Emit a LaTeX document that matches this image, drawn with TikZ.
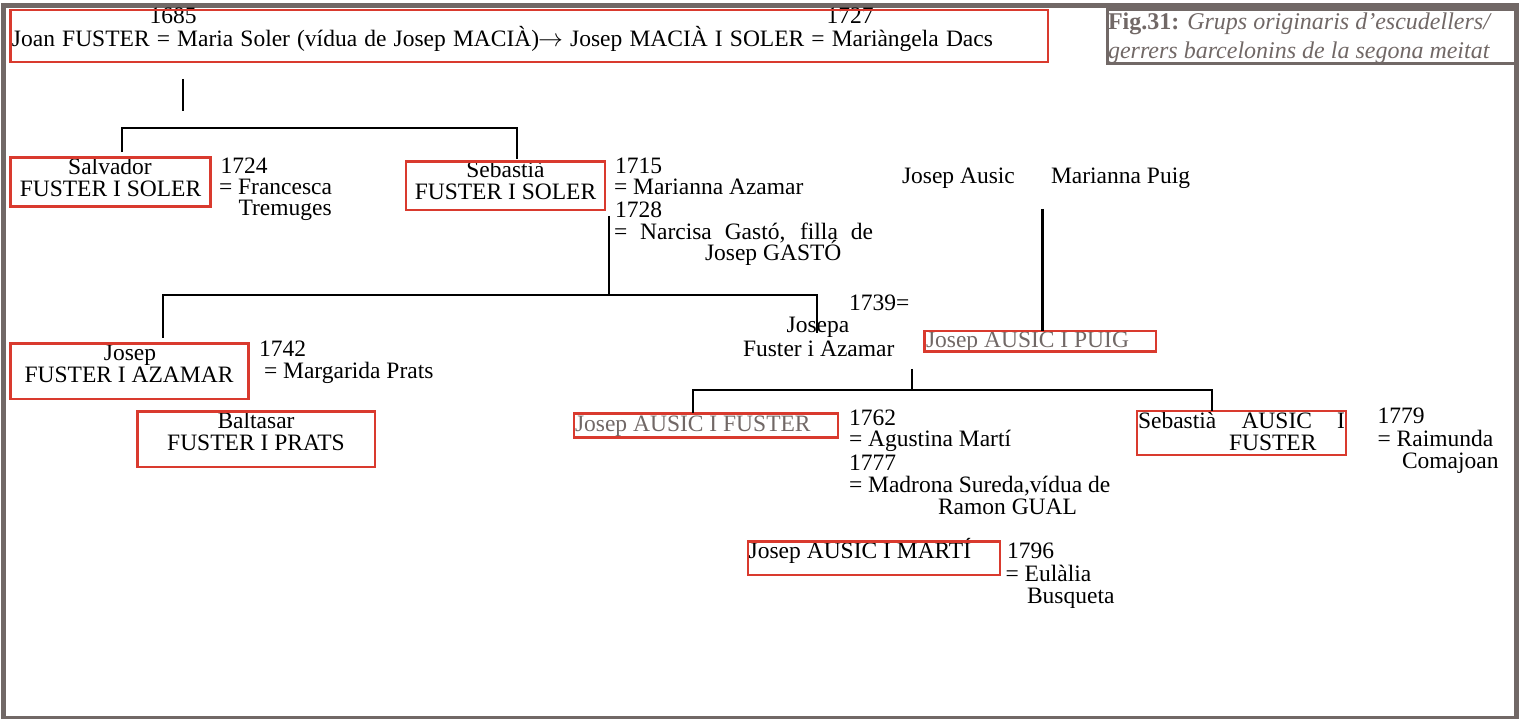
\documentclass[tikz,border=0pt]{standalone}
\usepackage{fontspec}
\setmainfont{Liberation Serif}
\definecolor{boxred}{HTML}{D93A2E}
\definecolor{framegray}{HTML}{716866}
\tikzset{
  t/.style={inner sep=0pt, outer sep=0pt, anchor=base west, font=\fontsize{23.5}{22.4}\selectfont},
  tc/.style={t, anchor=base},
  gt/.style={t, text=framegray},
  captxt/.style={t, text=framegray, font=\fontsize{24}{24}\selectfont},
  rbox/.style={draw=boxred, line width=2.6pt, inner sep=0pt, outer sep=0pt},
  gbox/.style={draw=framegray, line width=3pt, inner sep=0pt, outer sep=0pt},
  link/.style={line width=2.8pt, black},
}
\begin{document}
\begin{tikzpicture}[x=1pt,y=-1pt]
\useasboundingbox (0,0) rectangle (1524,719);
% outer frame
\node[draw=framegray, line width=5pt, inner sep=0pt, minimum width=1513pt, minimum height=713pt] (frame) at (760,362) {};
% ---- texts ----
\node[tc] (y1685) at (173,24) {1685};
\node[tc] (y1727) at (850,24) {1727};
\node[t] (main) at (12,46.7) {\makebox[981pt][s]{Joan FUSTER = Maria Soler (vídua de Josep MACIÀ)\kern-1pt$\rightarrow$ Josep MACIÀ I SOLER = Mariàngela Dacs}};
\node[captxt] (cap1) at (1108,30) {\textbf{Fig.31:} \textit{Grups originaris d’escudellers/}};
\node[captxt] (cap2) at (1108,59) {\textit{gerrers barcelonins de la segona meitat}};
% Salvador
\node[tc] (salv1) at (110,174.3) {Salvador};
\node[tc] (salv2) at (110.5,196.7) {FUSTER I SOLER};
\node[t] (salvd) at (220.5,173.3) {1724};
\node[t] (salve) at (219,194.5) {= Francesca};
\node[t] (salvf) at (238.5,216) {Tremuges};
% Sebastia
\node[tc] (seb1) at (505.5,177.3) {Sebastià};
\node[tc] (seb2) at (505.5,199.3) {FUSTER I SOLER};
\node[t] (sebd1) at (615,173.5) {1715};
\node[t] (sebe1) at (614,195) {= Marianna Azamar};
\node[t] (sebd2) at (615,218) {1728};
\node[t] (sebe2) at (614,240) {\makebox[259pt][s]{= Narcisa Gastó, filla de}};
\node[t] (sebe3) at (705,260.7) {Josep GASTÓ};
% Ausic parents
\node[t] (ausic) at (902,183.3) {Josep Ausic};
\node[t] (puigm) at (1051,183.3) {Marianna Puig};
% Josepa
\node[t] (y1739) at (849,310.7) {1739=};
\node[tc] (josepa1) at (818,333) {Josepa};
\node[tc] (josepa2) at (818.7,356) {Fuster i Azamar};
\node[gt] (puigt) at (926,348) {Josep AUSIC I PUIG};
% Josep Fuster i Azamar
\node[tc] (jfa1) at (130,361) {Josep};
\node[tc] (jfa2) at (129,382.3) {FUSTER I AZAMAR};
\node[t] (jfad) at (259,356.7) {1742};
\node[t] (jfae) at (264,378.3) {= Margarida Prats};
% Baltasar
\node[tc] (balt1) at (256,428.7) {Baltasar};
\node[tc] (balt2) at (256,450) {FUSTER I PRATS};
% Josep Ausic i Fuster
\node[gt] (jaft) at (575,431.7) {Josep AUSIC I FUSTER};
\node[t] (jafd1) at (849,425.7) {1762};
\node[t] (jafe1) at (849,446.7) {= Agustina Martí};
\node[t] (jafd2) at (849,470) {1777};
\node[t] (jafe2) at (849,492.7) {= Madrona Sureda,vídua de};
\node[t] (jafe3) at (938,514) {Ramon GUAL};
% Sebastia Ausic i Fuster
\node[t] (seba1) at (1138,428.3) {\makebox[207pt][s]{Sebastià AUSIC I}};
\node[t] (seba2) at (1229,450.7) {FUSTER};
\node[t] (sebad) at (1377.5,423.3) {1779};
\node[t] (sebae1) at (1377.5,446.7) {= Raimunda};
\node[t] (sebae2) at (1402,468.7) {Comajoan};
% Josep Ausic i Marti
\node[t] (martit) at (748.7,558.3) {Josep AUSIC I MARTÍ};
\node[t] (martid) at (1007,558.3) {1796};
\node[t] (martie1) at (1005.6,581) {= Eulàlia};
\node[t] (martie2) at (1027,603.3) {Busqueta};
% ---- boxes ----
\node[rbox, minimum width=1037.5pt, minimum height=52pt] (topbox) at (529.25,36) {};
\node[gbox, minimum width=408.5pt, minimum height=54pt] (capbox) at (1311.75,37) {};
\node[rbox, minimum width=200pt, minimum height=49pt] (salvbox) at (110.5,182) {};
\node[rbox, minimum width=199pt, minimum height=48.5pt] (sebbox) at (505.5,185.75) {};
\node[rbox, minimum width=238pt, minimum height=55.5pt] (jfabox) at (129.5,371.25) {};
\node[rbox, minimum width=237.5pt, minimum height=55.5pt] (baltbox) at (256.25,439.25) {};
\node[rbox, minimum width=231.5pt, minimum height=20.5pt] (puigbox) at (1040.25,341.25) {};
\node[rbox, minimum width=264pt, minimum height=24pt] (jafbox) at (706,425.5) {};
\node[rbox, minimum width=209pt, minimum height=44pt] (sebabox) at (1241.5,433) {};
\node[rbox, minimum width=252pt, minimum height=33.5pt] (martibox) at (874,558.25) {};
% ---- connectors ----
\coordinate (v1a) at (183,79);
\coordinate (v1b) at (183,111);
\draw[link] (v1a) -- (v1b);
\coordinate (b1l) at (122,152);
\coordinate (b1cl) at (122,128);
\coordinate (b1cr) at (517,128);
\coordinate (b1r) at (517,159);
\draw[link] (b1l) -- (b1cl) -- (b1cr) -- (b1r);
\coordinate (v2a) at (609,216);
\coordinate (v2b) at (609,295);
\draw[link] (v2a) -- (v2b);
\coordinate (b2l) at (163,338);
\coordinate (b2cl) at (163,295);
\coordinate (b2cr) at (817,295);
\coordinate (b2r) at (817,333);
\draw[link] (b2l) -- (b2cl) -- (b2cr) -- (b2r);
\coordinate (v3a) at (1042.5,209);
\draw[link] (v3a) -- (v3a |- puigbox.north);
\coordinate (v4a) at (912,369);
\coordinate (v4b) at (912,390);
\draw[link] (v4a) -- (v4b);
\coordinate (b3l) at (693,413);
\coordinate (b3cl) at (693,390);
\coordinate (b3cr) at (1212,390);
\coordinate (b3r) at (1212,411);
\draw[link] (b3l) -- (b3cl) -- (b3cr) -- (b3r);
\end{tikzpicture}
\end{document}
